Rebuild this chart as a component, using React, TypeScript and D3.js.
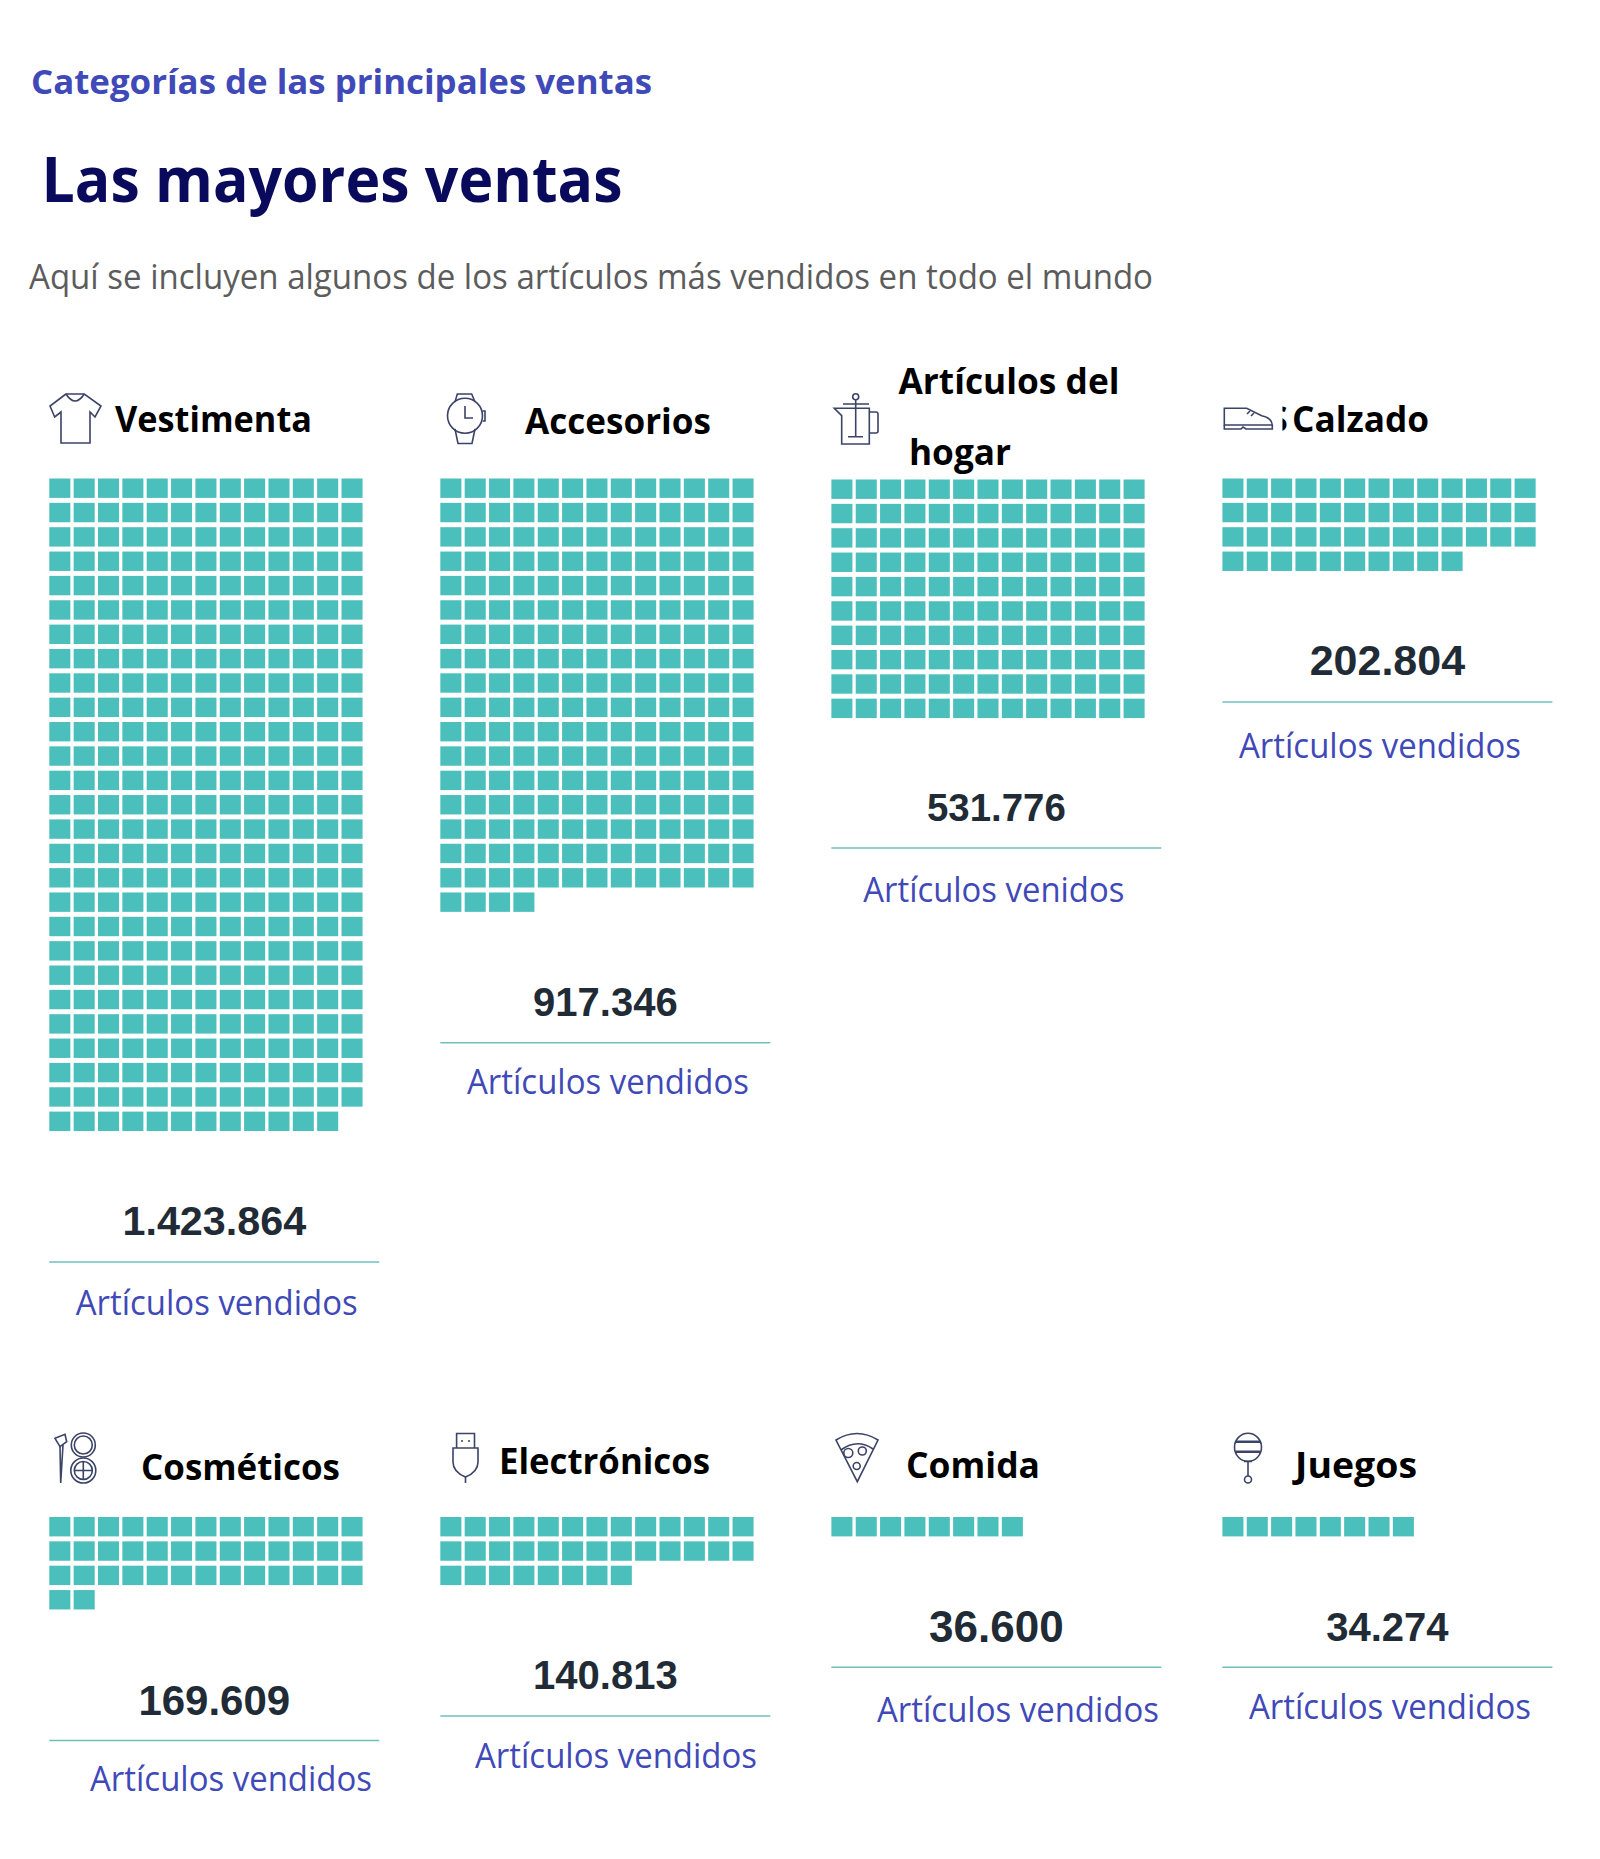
import React from "react"
import * as d3 from "d3"

// valores
const categories = ["Vestimenta", "Accesorios", "Artículos del hogar", "Calzado", "Cosméticos", "Electrónicos", "Comida", "Juegos"]
const soldValues = [1423864, 917346, 531776, 202804, 169609, 140813, 36600, 34274]
const squareCounts = [350, 225, 130, 49, 41, 34, 8, 8]
const captions = ["Artículos vendidos", "Artículos vendidos", "Artículos venidos", "Artículos vendidos", "Artículos vendidos", "Artículos vendidos", "Artículos vendidos", "Artículos vendidos"]

// layout
const COLS = 13
const STEP_X = 24.35
const STEP_Y = 24.35
const GAP_X = 3.3
const CELL_H = 19.4
const columnX = d3.scaleLinear().domain([0, 3]).range([49.3, 1222.4])
const rowTop = [478.5, 1517]
const waffleNudge = [0, 0, 1, 0, 0, 0, 0, 0]
const captionX = [75.7, 467, 863.3, 1239, 90, 475, 877, 1249]
const captionGap = [183.6, 182.6, 185.4, 187, 181.4, 183, 185.4, 183]
const numberSizes = [41.3, 40, 38.4, 43, 42, 40, 44, 40]
const numberNudge = [0, 0, 0, 0, 1.5, 0, 2, 1]
const headingBoxes = [
  [{ x: 115, y: 432, w: 197 }],
  [{ x: 525, y: 434, w: 186 }],
  [{ x: 898.5, y: 394, w: 221 }, { x: 909, y: 465, w: 102 }],
  [{ x: 1292, y: 432, w: 137 }],
  [{ x: 141, y: 1480, w: 199 }],
  [{ x: 499, y: 1474, w: 211 }],
  [{ x: 906, y: 1478, w: 134 }],
  [{ x: 1295, y: 1478, w: 122 }],
]

const TEAL = "#4bbfbc"
const RULE = "#6fbfc0"
const BLUE = "#3f49b8"
const ICON = "#3b4366"
const UI_FONT = "'Open Sans', 'Noto Sans', sans-serif"

const formatEs = (v: number) => d3.format(",")(v).replace(/,/g, ".")

const colScale = d3.scaleBand<number>()
  .domain(d3.range(COLS))
  .range([0, COLS * STEP_X - GAP_X])
  .paddingInner(GAP_X / STEP_X)
  .paddingOuter(0)
  .align(0)

const rowScale = d3.scaleLinear().domain([0, 1]).range([0, STEP_Y])

const Waffle = ({ x, y, count }: { x: number; y: number; count: number }) => (
  <g transform={`translate(${x},${y})`}>
    {d3.range(count).map((i) => (
      <rect
        key={i}
        x={colScale(i % COLS)}
        y={rowScale(Math.floor(i / COLS))}
        width={colScale.bandwidth()}
        height={CELL_H}
        fill={TEAL}
      />
    ))}
  </g>
)

// iconos dibujados a mano
const icons = [
  <g key="shirt">
    <path d="M66,394 L50,406 L54.7,417 L61,412 L61,443 L90,443 L90,412 L95,417 L101,406 L84.3,394 Z" />
    <path d="M66,394 Q75,408 84.3,394" />
  </g>,
  <g key="watch">
    <circle cx={465} cy={415.7} r={17.5} />
    <path d="M455,402 L457.3,394 L471.7,394 L475,402" />
    <path d="M455,429 L458,443.5 L472,443.5 L475,429" />
    <path d="M482.5,411 H485 V421 H482.5" />
    <path d="M465,406 V418 H473" />
  </g>,
  <g key="press">
    <circle cx={855.7} cy={396.7} r={3} />
    <path d="M855.7,400 V436.7 M843,404 H869 M848,436.7 H863" />
    <path d="M834.3,408.3 H869.3 V444 H841.7 V415.7 Z" />
    <path d="M869.3,412 H876 Q878,412 878,414 V431 Q878,433 876,433 H869.3" />
  </g>,
  <g key="shoe">
    <path d="M1224.3,408.3 H1246.7 L1261.7,415.7 Q1272,418 1272.3,425 H1224.3 Z" />
    <path d="M1224.3,425 V429 H1241 L1243,427 L1246,429 H1272.3 V425" />
    <path d="M1247,414 L1250,411 M1251,416 L1254,413" />
  </g>,
  <g key="makeup">
    <path d="M55,1438.3 L65,1434.3 L66.7,1441.7 L60,1446.7 Z" />
    <path d="M60,1446.7 L60.7,1483 L63,1445" />
    <circle cx={83.3} cy={1445} r={12} />
    <circle cx={83.3} cy={1445} r={9} />
    <circle cx={83.3} cy={1470.5} r={12.5} />
    <circle cx={83.3} cy={1470.5} r={9} />
    <path d="M83.3,1461.5 V1479.5 M74.3,1470.5 H92.3" />
  </g>,
  <g key="usb">
    <path d="M456.6,1448 V1433.5 H474.5 V1448" />
    <path d="M453,1448 H478 V1462 Q478,1472 465.5,1477 Q453,1472 453,1462 Z" />
    <path d="M465.5,1477 V1483 M461,1441 H463 M468,1441 H470" />
  </g>,
  <g key="pizza">
    <path d="M836,1440 Q857,1427 878,1440 L857.3,1481.7 Z" />
    <path d="M841,1450 Q857,1438 873,1449" />
    <circle cx={848.3} cy={1453} r={4.5} />
    <circle cx={862.3} cy={1451} r={4} />
    <circle cx={856.7} cy={1466} r={3.5} />
  </g>,
  <g key="rattle">
    <ellipse cx={1248} cy={1447.3} rx={13.5} ry={14} />
    <path d="M1235.5,1441.7 H1260.5 M1235.5,1451.7 H1260.5" strokeWidth={2.4} />
    <path d="M1244,1461.5 H1252 M1248,1461.5 V1476" />
    <circle cx={1248} cy={1479.5} r={3.5} />
  </g>,
]

export default function App() {
  return (
    <svg width={1600} height={1859} style={{ position: "absolute", left: 0, top: 0, background: "#fff" }}>
      <defs>
        <clipPath id="s-cut">
          <rect x={1282.5} y={400} width={6} height={40} />
        </clipPath>
      </defs>

      <text x={31} y={93.5} fontFamily={UI_FONT} fontWeight={700} fontSize={34} fill={BLUE} textLength={621} lengthAdjust="spacingAndGlyphs">
        Categorías de las principales ventas
      </text>
      <text x={41.5} y={202} fontFamily={UI_FONT} fontWeight={700} fontSize={63} fill="#0a0a5c" textLength={581} lengthAdjust="spacingAndGlyphs">
        Las mayores ventas
      </text>
      <text x={29} y={289} fontFamily={UI_FONT} fontSize={34} fill="#5c5c5c" textLength={1124} lengthAdjust="spacingAndGlyphs">
        Aquí se incluyen algunos de los artículos más vendidos en todo el mundo
      </text>

      {categories.map((name, i) => {
        const col = i % 4
        const x = columnX(col)
        const top = rowTop[Math.floor(i / 4)]
        const rows = Math.ceil(squareCounts[i] / COLS)
        const bottom = top + rows * 24.35 - 5
        const words = name === "Artículos del hogar" ? ["Artículos del", "hogar"] : [name]
        return (
          <g key={name}>
            <g fill="none" stroke={ICON} strokeWidth={1.6}>{icons[i]}</g>
            {words.map((w, k) => (
              <text key={w} x={headingBoxes[i][k].x} y={headingBoxes[i][k].y} fontFamily={UI_FONT} fontWeight={700} fontSize={36} fill="#000" textLength={headingBoxes[i][k].w} lengthAdjust="spacingAndGlyphs">
                {w}
              </text>
            ))}
            <Waffle x={x} y={top + waffleNudge[i]} count={squareCounts[i]} />
            <text x={x + 165} y={bottom + 104 + numberNudge[i]} textAnchor="middle" fontFamily="'Liberation Sans', Arial, sans-serif" fontWeight={700} fontSize={numberSizes[i]} fill="#212b36">
              {formatEs(soldValues[i])}
            </text>
            <line x1={x} x2={x + 330} y1={bottom + 131} y2={bottom + 131} stroke={RULE} strokeWidth={1.5} />
            <text x={captionX[i]} y={bottom + captionGap[i]} fontFamily={UI_FONT} fontSize={34} fill={BLUE} textLength={i === 2 ? 261 : 282} lengthAdjust="spacingAndGlyphs">
              {captions[i]}
            </text>
          </g>
        )
      })}

      <text x={1268} y={432} clipPath="url(#s-cut)" fontFamily={UI_FONT} fontWeight={700} fontSize={36} fill="#000">S</text>
    </svg>
  )
}
